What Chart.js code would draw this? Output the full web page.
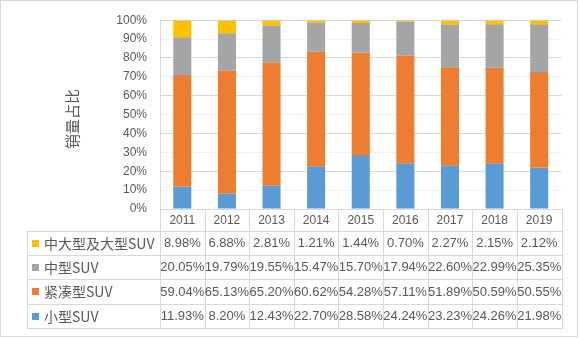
<!DOCTYPE html>
<html>
<head>
<meta charset="utf-8">
<script src="https://cdn.jsdelivr.net/npm/chart.js@4.4.1/dist/chart.umd.min.js"></script>
<style>
html,body{margin:0;padding:0;background:#fff;}
#wrap{width:580px;height:338px;position:relative;}
</style>
</head>
<body>
<div id="wrap"><canvas id="c" width="580" height="338"></canvas></div>
<script>
const years = ['2011','2012','2013','2014','2015','2016','2017','2018','2019'];
const seriesNames = ['小型SUV','紧凑型SUV','中型SUV','中大型及大型SUV'];
const smallSUV   = [11.93, 8.20, 12.43, 22.70, 28.58, 24.24, 23.23, 24.26, 21.98];
const compactSUV = [59.04, 65.13, 65.20, 60.62, 54.28, 57.11, 51.89, 50.59, 50.55];
const midSUV     = [20.05, 19.79, 19.55, 15.47, 15.70, 17.94, 22.60, 22.99, 25.35];
const largeSUV   = [8.98, 6.88, 2.81, 1.21, 1.44, 0.70, 2.27, 2.15, 2.12];
const yTicks = [0,10,20,30,40,50,60,70,80,90,100];
const yTitle = '销量占比';
const colors = ['#5B9BD5','#ED7D31','#A5A5A5','#FFC000'];

const seriesValues = [smallSUV, compactSUV, midSUV, largeSUV];
const textColor = '#595959';
const lineColor = '#d9d9d9';
const latin = '"Liberation Sans", Arial, sans-serif';
const cjk = '"Noto Sans CJK SC", "Noto Sans", sans-serif';

const tablePlugin = {
  id: 'tablePlugin',
  afterDraw(chart) {
    const ctx = chart.ctx;
    const xs = chart.scales.x;
    const ca = chart.chartArea;
    const n = years.length;
    const step = (ca.right - ca.left) / n;
    const top = ca.bottom;
    const headerH = 21.7;
    const rowH = 24.3;
    const tableLeft = 27;
    const rowsTop = top + headerH;
    const bottom = rowsTop + rowH * 4;
    ctx.save();
    // outer border
    ctx.strokeStyle = lineColor;
    ctx.lineWidth = 1;
    ctx.strokeRect(0.5, 0.5, 577, 336);
    // lines
    ctx.beginPath();
    for (let k = 0; k <= n; k++) {
      const x = Math.round(ca.left + k * step) + 0.5;
      ctx.moveTo(x, top);
      ctx.lineTo(x, bottom);
    }
    ctx.moveTo(tableLeft + 0.5, rowsTop);
    ctx.lineTo(tableLeft + 0.5, bottom);
    for (let r = 0; r <= 4; r++) {
      const y = Math.round(rowsTop + r * rowH) + 0.5;
      ctx.moveTo(tableLeft, y);
      ctx.lineTo(Math.round(ca.right) + 1, y);
    }
    ctx.stroke();
    // year header
    ctx.fillStyle = textColor;
    ctx.textAlign = 'center';
    ctx.textBaseline = 'middle';
    ctx.font = '12px ' + latin;
    years.forEach((yv, i) => {
      ctx.fillText(yv, xs.getPixelForValue(i), top + headerH / 2 + 1);
    });
    // rows: top row is last series
    for (let r = 0; r < 4; r++) {
      const si = 3 - r;
      const cy = rowsTop + r * rowH + rowH / 2 + 0.5;
      ctx.fillStyle = colors[si];
      ctx.fillRect(32, Math.round(cy - 3.5), 7, 7);
      ctx.fillStyle = textColor;
      ctx.textAlign = 'left';
      ctx.font = '14px ' + cjk;
      ctx.fillText(seriesNames[si], 44, cy);
      ctx.textAlign = 'center';
      ctx.font = '13px ' + latin;
      seriesValues[si].forEach((v, i) => {
        ctx.fillText(v.toFixed(2) + '%', xs.getPixelForValue(i), cy);
      });
    }
    // y title
    ctx.translate(72, 119);
    ctx.rotate(-Math.PI / 2);
    ctx.font = '15px ' + cjk;
    ctx.textAlign = 'center';
    ctx.fillText(yTitle, 0, 0);
    ctx.restore();
  }
};

new Chart(document.getElementById('c'), {
  type: 'bar',
  data: {
    labels: years,
    datasets: seriesNames.map((name, i) => ({
      label: name,
      data: seriesValues[i],
      backgroundColor: colors[i],
      borderWidth: 0,
      barPercentage: 0.405,
      categoryPercentage: 1
    }))
  },
  options: {
    responsive: false,
    animation: false,
    devicePixelRatio: 1,
    layout: { padding: { left: 0, right: 18.5, top: 17, bottom: 129 } },
    plugins: { legend: { display: false }, tooltip: { enabled: false } },
    scales: {
      x: {
        stacked: true,
        grid: { display: false },
        border: { display: true, color: lineColor },
        ticks: { display: false },
        afterFit(s) { s.height = 0; }
      },
      y: {
        stacked: true,
        min: 0,
        max: 100,
        afterBuildTicks(s) { s.ticks = yTicks.map(v => ({ value: v })); },
        afterFit(s) { s.width = 160; },
        grid: {
          drawTicks: false,
          color: (c) => (c.tick && c.tick.value % 20 === 0) ? lineColor : '#f2f2f2'
        },
        border: { display: true, color: lineColor },
        ticks: {
          padding: 13,
          color: textColor,
          font: { family: '"Liberation Sans", Arial, sans-serif', size: 12 },
          callback: (v) => v + '%'
        }
      }
    }
  },
  plugins: [tablePlugin]
});
</script>
</body>
</html>
